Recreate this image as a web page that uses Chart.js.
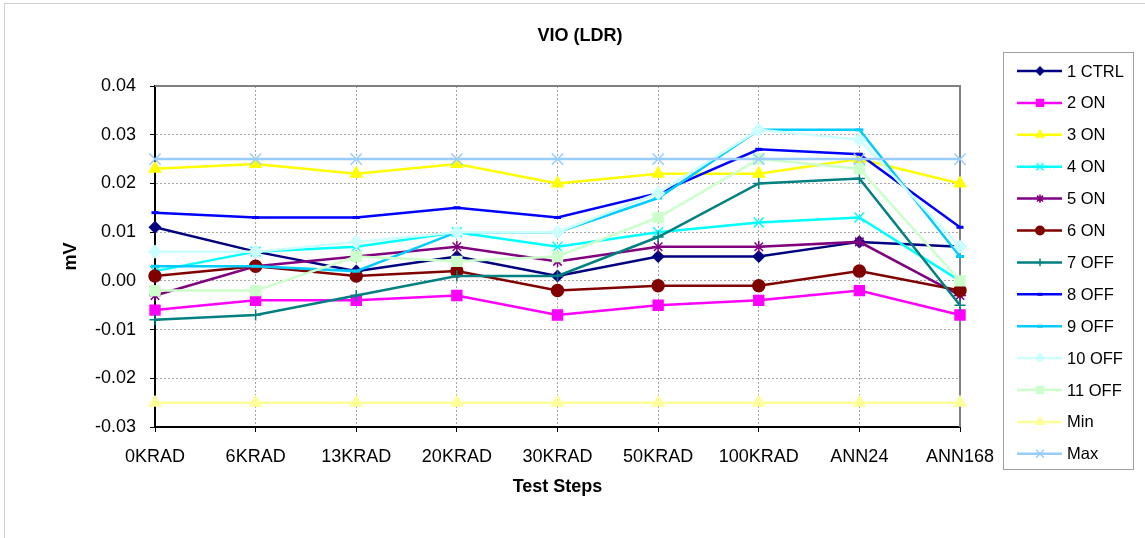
<!DOCTYPE html>
<html>
<head>
<meta charset="utf-8">
<script src="https://cdn.jsdelivr.net/npm/chart.js"></script>
<style>
    body { margin: 0; background: #fff; }
    #wrap { width: 1145px; height: 538px; }
</style>
</head>
<body>
<div id="wrap"><canvas id="vioChart" width="1145" height="538"></canvas></div>
<script>
const steps = ['0KRAD', '6KRAD', '13KRAD', '20KRAD', '30KRAD', '50KRAD', '100KRAD', 'ANN24', 'ANN168']

const ctrl1 = [0.011, 0.006, 0.002, 0.005, 0.001, 0.005, 0.005, 0.008, 0.007]
const on2 = [-0.006, -0.004, -0.004, -0.003, -0.007, -0.005, -0.004, -0.002, -0.007]
const on3 = [0.023, 0.024, 0.022, 0.024, 0.020, 0.022, 0.022, 0.025, 0.020]
const on4 = [0.002, 0.006, 0.007, 0.010, 0.007, 0.010, 0.012, 0.013, 0.000]
const on5 = [-0.003, 0.003, 0.005, 0.007, 0.004, 0.007, 0.007, 0.008, -0.003]
const on6 = [0.001, 0.003, 0.001, 0.002, -0.002, -0.001, -0.001, 0.002, -0.002]
const off7 = [-0.008, -0.007, -0.003, 0.001, 0.001, 0.009, 0.020, 0.021, -0.005]
const off8 = [0.014, 0.013, 0.013, 0.015, 0.013, 0.018, 0.027, 0.026, 0.011]
const off9 = [0.003, 0.003, 0.002, 0.010, 0.010, 0.017, 0.031, 0.031, 0.005]
const off10 = [0.006, 0.006, 0.008, 0.010, 0.010, 0.018, 0.031, 0.029, 0.007]
const off11 = [-0.002, -0.002, 0.005, 0.004, 0.005, 0.013, 0.025, 0.023, 0.000]
const minLimit = [-0.025, -0.025, -0.025, -0.025, -0.025, -0.025, -0.025, -0.025, -0.025]
const maxLimit = [0.025, 0.025, 0.025, 0.025, 0.025, 0.025, 0.025, 0.025, 0.025]

const yTicks = {min: -0.03, max: 0.04, step: 0.01}

const FONT = '"Liberation Sans", Arial, sans-serif'

// label, values, colour, marker, marker radius
const seriesDefs = [
    ['1 CTRL', ctrl1, '#000080', 'rectRot', 5.5],
    ['2 ON', on2, '#FF00FF', 'rect', 7],
    ['3 ON', on3, '#FFFF00', 'triangle', 6.5],
    ['4 ON', on4, '#00FFFF', 'crossRot', 7],
    ['5 ON', on5, '#800080', 'star', 6],
    ['6 ON', on6, '#800000', 'circle', 6],
    ['7 OFF', off7, '#008080', 'cross', 5.5],
    ['8 OFF', off8, '#0000FF', 'line', 3.5],
    ['9 OFF', off9, '#00CCFF', 'line', 4],
    ['10 OFF', off10, '#CCFFFF', 'rectRot', 6],
    ['11 OFF', off11, '#CCFFCC', 'rect', 7],
    ['Min', minLimit, '#FFFF99', 'triangle', 6.5],
    ['Max', maxLimit, '#99CCFF', 'crossRot', 8],
]

const datasets = seriesDefs.map(([label, data, color, style, r], i) => ({
    label,
    data,
    borderColor: color,
    backgroundColor: color,
    borderWidth: 2.5,
    pointStyle: style,
    pointRadius: r,
    pointBorderWidth: (style === 'line') ? 3 : 1.5,
    pointBackgroundColor: color,
    pointBorderColor: color,
    tension: 0,
    clip: false,
    order: -i,
}))

// legend markers come out a bit smaller than the plotted ones
const markerOpts = (ds) => ({
    pointStyle: ds.pointStyle,
    radius: ds.pointRadius * 0.7,
    rotation: 0,
    borderWidth: ds.pointBorderWidth,
})

// excel-ish frame, title and boxed legend
const framePlugin = {
    id: 'frame',
    beforeDatasetsDraw(chart) {
        const {ctx, chartArea: a} = chart
        ctx.save()
        ctx.strokeStyle = '#808080'
        ctx.lineWidth = 2
        ctx.beginPath()
        ctx.moveTo(a.left, a.top)
        ctx.lineTo(a.right, a.top)
        ctx.lineTo(a.right, a.bottom)
        ctx.stroke()
        ctx.restore()
    },
    afterDraw(chart) {
        const {ctx} = chart
        ctx.save()
        // outer chart border
        ctx.strokeStyle = '#d0d0d0'
        ctx.lineWidth = 1
        ctx.strokeRect(4.5, 3.5, 1150, 600)

        ctx.fillStyle = '#000'
        ctx.font = 'bold 18px ' + FONT
        ctx.textAlign = 'center'
        ctx.textBaseline = 'middle'
        ctx.fillText('VIO (LDR)', 580, 36)

        // legend
        ctx.strokeStyle = '#a0a0a0'
        ctx.lineWidth = 1
        ctx.strokeRect(1003.5, 52.5, 130, 417)
        ctx.font = '16.5px ' + FONT
        ctx.textAlign = 'left'
        chart.data.datasets.forEach((ds, i) => {
            const y = 71 + i * 31.9
            ctx.strokeStyle = ds.borderColor
            ctx.lineWidth = ds.borderWidth
            ctx.beginPath()
            ctx.moveTo(1017, y)
            ctx.lineTo(1062, y)
            ctx.stroke()
            ctx.fillStyle = ds.pointBackgroundColor
            ctx.strokeStyle = ds.pointBorderColor
            ctx.lineWidth = ds.pointBorderWidth
            Chart.helpers.drawPoint(ctx, markerOpts(ds), 1040, y)
            ctx.fillStyle = '#000'
            ctx.fillText(ds.label, 1067, y + 1)
        })
        ctx.restore()
    }
}

const fmt = (v) => Math.abs(v) < 1e-9 ? '0.00' : v.toFixed(2)

const ctx = document.getElementById('vioChart').getContext('2d')
const chart = new Chart(ctx, {
    type: 'line',
    data: {labels: steps, datasets},
    plugins: [framePlugin],
    options: {
        responsive: false,
        animation: false,
        layout: {padding: {left: 0, right: 185, top: 86, bottom: 0}},
        plugins: {
            legend: {display: false},
            title: {display: false},
            tooltip: {enabled: false},
        },
        scales: {
            x: {
                offset: false,
                afterFit: (s) => { s.height = 111 },
                grid: {
                    offset: false,
                    color: '#a6a6a6',
                    tickColor: '#000',
                    tickLength: 5,
                },
                border: {color: '#000', width: 2, dash: [2, 2]},
                ticks: {
                    color: '#000',
                    font: {family: FONT, size: 18},
                    padding: 14,
                    maxRotation: 0,
                    autoSkip: false,
                },
                title: {
                    display: true,
                    text: 'Test Steps',
                    color: '#000',
                    font: {family: FONT, size: 18, weight: 'bold'},
                    padding: {top: 0, bottom: 40},
                },
            },
            y: {
                min: yTicks.min,
                max: yTicks.max,
                afterFit: (s) => { s.width = 155 },
                grid: {
                    color: '#a6a6a6',
                    tickColor: '#000',
                    tickLength: 5,
                },
                border: {color: '#000', width: 2, dash: [2, 2]},
                ticks: {
                    stepSize: yTicks.step,
                    color: '#000',
                    font: {family: FONT, size: 18},
                    padding: 14,
                    callback: (v) => fmt(v),
                },
                title: {
                    display: true,
                    text: 'mV',
                    color: '#000',
                    font: {family: FONT, size: 18, weight: 'bold'},
                    padding: {top: 60, bottom: 0},
                },
            },
        },
    },
})
</script>
</body>
</html>
